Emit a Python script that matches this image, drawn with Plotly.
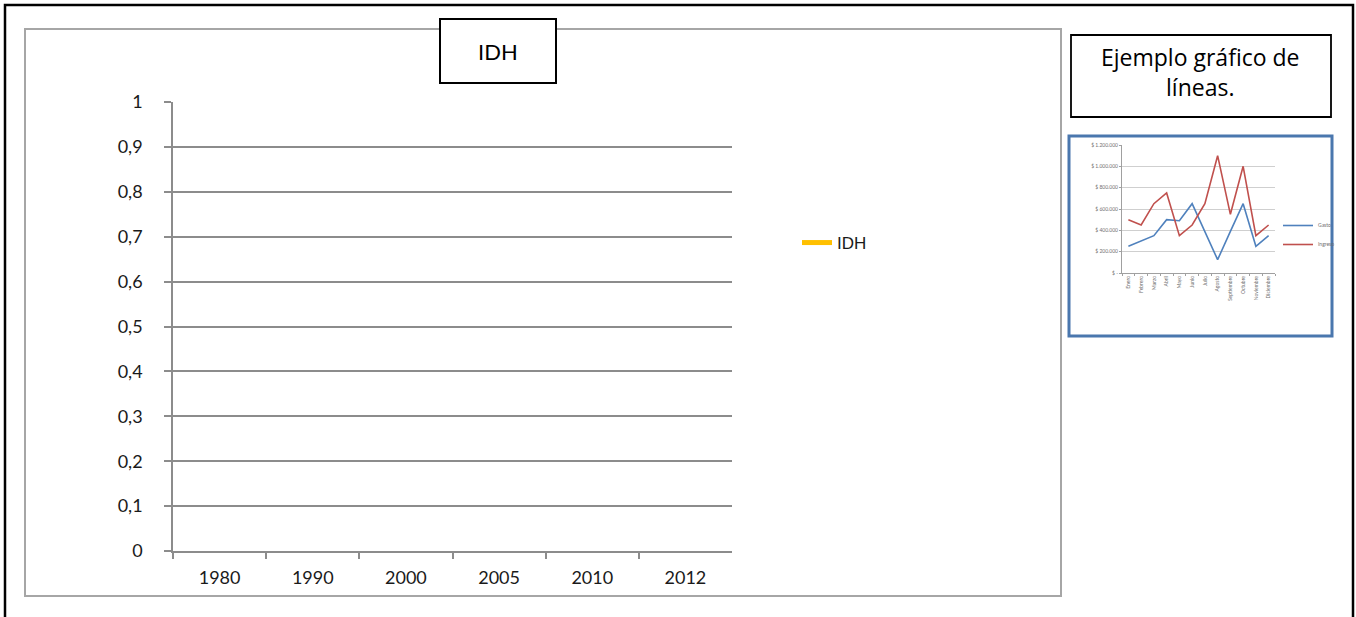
import plotly.graph_objects as go

W, H = 1356, 617

# ---- data ----
years = ["1980", "1990", "2000", "2005", "2010", "2012"]
idh_values = [None, None, None, None, None, None]
idh_ticks = [0, 0.1, 0.2, 0.3, 0.4, 0.5, 0.6, 0.7, 0.8, 0.9, 1]

months = ["Enero", "Febrero", "Marzo", "Abril", "Mayo", "Junio", "Julio",
          "Agosto", "Septiembre", "Octubre", "Noviembre", "Diciembre"]
gasto = [250000, 300000, 350000, 500000, 490000, 650000, 390000,
         125000, 390000, 650000, 250000, 350000]
ingreso = [500000, 450000, 650000, 750000, 350000, 450000, 650000,
           1100000, 550000, 1000000, 350000, 450000]
money_ticks = [0, 200000, 400000, 600000, 800000, 1000000, 1200000]
money_labels = ["$ -", "$ 200.000", "$ 400.000", "$ 600.000",
                "$ 800.000", "$ 1.000.000", "$ 1.200.000"]


def px(x):
    return x / W


def py(y):
    return 1 - y / H


fig = go.Figure()

fig.add_trace(go.Scatter(
    x=years, y=idh_values, mode="lines", name="IDH",
    line=dict(color="#FFC000", width=5), xaxis="x", yaxis="y",
    legend="legend", connectgaps=False,
))
fig.add_trace(go.Scatter(
    x=months, y=gasto, mode="lines", name="Gasto",
    line=dict(color="#4F81BD", width=1.6), xaxis="x2", yaxis="y2",
    legend="legend2",
))
fig.add_trace(go.Scatter(
    x=months, y=ingreso, mode="lines", name="Ingreso",
    line=dict(color="#C0504D", width=1.6), xaxis="x2", yaxis="y2",
    legend="legend2",
))

main_font = dict(family="Lato, Carlito, Calibri, sans-serif", size=18, color="#1a1a1a")
grid_col = "#8C8C8C"

shapes = [
    # outer black frame
    dict(type="rect", xref="paper", yref="paper", x0=px(5), x1=px(1353),
         y0=py(5), y1=-0.1, line=dict(color="black", width=2.5), layer="below"),
    # main chart frame
    dict(type="rect", xref="paper", yref="paper", x0=px(25), x1=px(1061),
         y0=py(29), y1=py(596), line=dict(color="#A6A6A6", width=2), layer="below"),
    # title box
    dict(type="rect", xref="paper", yref="paper", x0=px(440), x1=px(556),
         y0=py(19), y1=py(83), line=dict(color="black", width=2),
         fillcolor="white", layer="below"),
    # right text box
    dict(type="rect", xref="paper", yref="paper", x0=px(1071), x1=px(1331),
         y0=py(35), y1=py(117), line=dict(color="black", width=1.8),
         fillcolor="white", layer="below"),
    # inset border
    dict(type="rect", xref="paper", yref="paper", x0=px(1069), x1=px(1332),
         y0=py(136), y1=py(336), line=dict(color="#4A77AE", width=3),
         fillcolor="white", layer="below"),
]

annotations = [
    dict(text="IDH", xref="paper", yref="paper", x=px(498), y=py(51),
         showarrow=False, font=dict(family="Lato, sans-serif", size=22, color="black"),
         xanchor="center", yanchor="middle"),
    dict(text="Ejemplo gráfico de<br>líneas.", xref="paper", yref="paper",
         x=px(1200), y=py(72), showarrow=False,
         font=dict(family="Open Sans, sans-serif", size=23, color="black"),
         xanchor="center", yanchor="middle", align="center"),
]

fig.update_layout(
    width=W, height=H,
    margin=dict(l=0, r=0, t=0, b=0, pad=0, autoexpand=False),
    paper_bgcolor="white", plot_bgcolor="white",
    separators=",.",
    shapes=shapes, annotations=annotations,
    xaxis=dict(
        domain=[px(173), px(732)], type="category", automargin=False,
        categoryorder="array", categoryarray=years, range=[-0.5, 5.5],
        showline=True, linecolor=grid_col, linewidth=1.5,
        ticks="outside", tickson="boundaries", ticklen=6, tickcolor=grid_col,
        tickwidth=1.5, showgrid=False, zeroline=False,
        tickfont=main_font, ticklabelstandoff=10, fixedrange=True,
    ),
    yaxis=dict(
        domain=[py(551), py(102)], range=[0, 1], tickvals=idh_ticks,
        tickformat="~g", automargin=False,
        showline=True, linecolor=grid_col, linewidth=1.5,
        ticks="outside", ticklen=7, tickcolor=grid_col, tickwidth=1.5,
        showgrid=True, gridcolor=grid_col, gridwidth=1.5, zeroline=False,
        tickfont=main_font, ticklabelstandoff=18, fixedrange=True,
    ),
    xaxis2=dict(
        domain=[px(1122), px(1275)], anchor="y2", type="category",
        automargin=False,
        categoryorder="array", categoryarray=months, range=[-0.5, 11.5],
        showline=True, linecolor="#A0A0A0", linewidth=1,
        ticks="outside", tickson="boundaries", ticklen=2, tickcolor="#A0A0A0",
        showgrid=False, zeroline=False, tickangle=-90,
        tickfont=dict(family="Lato, sans-serif", size=5, color="#707070"),
        fixedrange=True,
    ),
    yaxis2=dict(
        domain=[py(273), py(145)], anchor="x2", range=[0, 1200000],
        tickvals=money_ticks, ticktext=money_labels, automargin=False,
        showline=True, linecolor="#A0A0A0", linewidth=1,
        ticks="outside", ticklen=2, tickcolor="#A0A0A0",
        showgrid=True, gridcolor="#CFCFCF", gridwidth=1, zeroline=False,
        tickfont=dict(family="Lato, sans-serif", size=5, color="#707070"),
        fixedrange=True,
    ),
    legend=dict(
        x=px(797), y=py(243), xanchor="left", yanchor="middle",
        bgcolor="rgba(0,0,0,0)", font=dict(family="Liberation Sans, Arial, sans-serif", size=17, color="#1a1a1a"),
        itemwidth=30, tracegroupgap=0,
    ),
    legend2=dict(
        x=px(1278), y=py(235), xanchor="left", yanchor="middle",
        bgcolor="rgba(0,0,0,0)", font=dict(family="Lato, sans-serif", size=5, color="#707070"),
        itemwidth=30, tracegroupgap=0,
    ),
    showlegend=True,
)

fig.write_html(
    "out.html",
    config={"displayModeBar": False},
    post_script="document.body.style.margin='0';document.body.style.overflow='hidden';",
)
